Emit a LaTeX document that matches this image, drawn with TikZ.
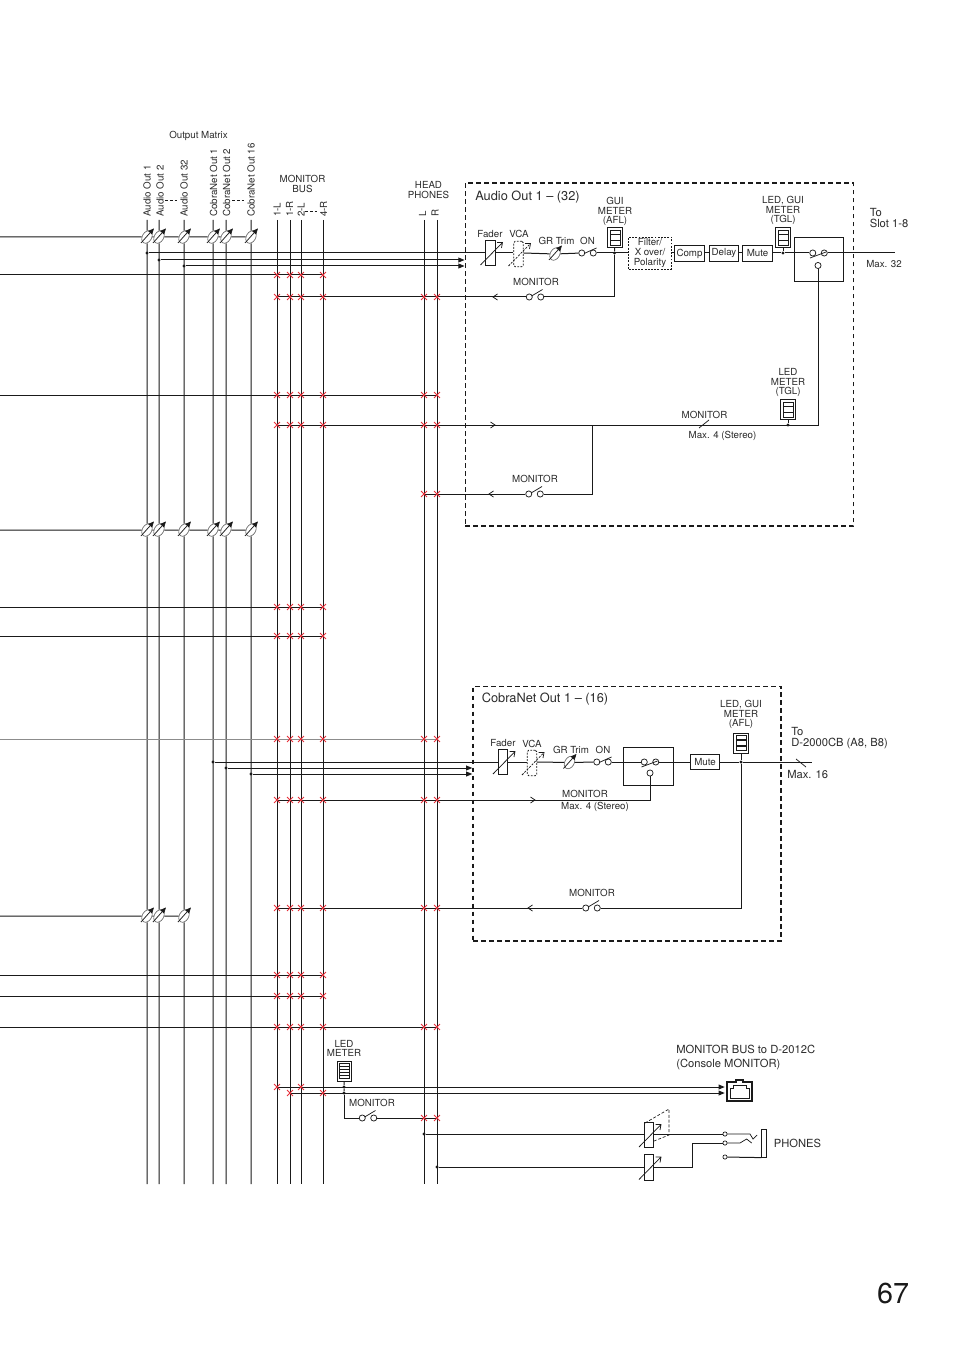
\documentclass[tikz,border=0pt]{standalone}
\usepackage{fontspec}
\setmainfont{TeX Gyre Heros}
\usetikzlibrary{arrows.meta,shapes.geometric,shapes.misc}
\definecolor{ink}{HTML}{1A1A1A}
\definecolor{txt}{HTML}{2B2B2B}
\definecolor{xred}{HTML}{E8303A}
\newcommand\crosses[2]{\foreach \v in {#2}{\node[rx] at (\v|-#1) {};}}
\tikzset{
  wire/.style={line width=0.75pt,draw=ink},
  tipwire/.style={wire,-{Triangle[length=4.6pt,width=3.6pt]}},
  rx/.style={cross out,draw=xred,line width=0.7pt,minimum size=3.7pt,inner sep=0pt},
  term/.style={circle,draw=ink,line width=0.55pt,fill=white,minimum size=4.6pt,inner sep=0pt},
  smallterm/.style={circle,draw=ink,line width=0.5pt,fill=white,minimum size=3.2pt,inner sep=0pt},
  jdot/.style={circle,fill=ink,minimum size=2.6pt,inner sep=0pt},
  lab/.style={text=txt,font=\fontsize{7.3}{7.05}\selectfont,align=center,inner sep=0pt,yshift=0pt},
  mid/.style={text=txt,font=\fontsize{8.4}{8.6}\selectfont,align=left,inner sep=0pt},
  head/.style={text=txt,font=\fontsize{9.6}{10}\selectfont,inner sep=0pt,yshift=-0.5pt},
  vlab/.style={text=txt,font=\fontsize{7.3}{7.05}\selectfont,inner sep=0pt,rotate=90,anchor=west},
  proc/.style={draw=ink,line width=0.65pt,fill=white,inner sep=0pt,minimum height=11.5pt,text=txt,font=\fontsize{7.3}{8}\selectfont},
  swbox/.style={draw=ink,line width=0.65pt,fill=white,minimum width=37pt,minimum height=33pt,inner sep=0pt},
  zone/.style={draw=ink,line width=1pt,dash pattern=on 3.6pt off 2.4pt,inner sep=0pt},
  dashlink/.style={draw=ink,line width=0.5pt,dash pattern=on 2.2pt off 1.4pt},
  open/.style={line width=0.55pt,draw=ink},
  sw/.pic={\node[term] (-l) at (-5.75,0){}; \node[term] (-r) at (5.75,0){}; \draw[open] (-3.4,-1) -- (7.5,-7.5);},
  swf/.pic={\node[term] (-l) at (-5.75,0){}; \node[term] (-r) at (5.75,0){}; \draw[open] (-3.4,0.5) -- (9,-5);},
  swb/.pic={\node[term] (-l) at (-5.75,0){}; \node[term] (-r) at (5.75,0){}; \draw[open] (-8.5,5) -- (7.5,-1);},
  fadr/.pic={\node[draw=ink,line width=0.7pt,fill=white,minimum width=7pt,minimum height=19pt,inner sep=0pt] (-b) at (0,0){};
    \draw[open] (-10,12) -- (12,-10.5) (6.5,-10.5) -- (12,-10.5) -- (11,-5);},
  vca/.pic={\node[draw=ink,line width=0.55pt,dash pattern=on 1.4pt off 1pt,fill=white,rounded corners=1pt,minimum width=7pt,minimum height=19pt,inner sep=0pt] (-b) at (0,0){};
    \draw[open,dash pattern=on 1.6pt off 1pt] (-10,12) -- (12,-10.5); \draw[open] (6.5,-10.5) -- (12,-10.5) -- (11,-5);},
  trim/.pic={\node[ellipse,draw=ink!65,line width=0.5pt,fill=white,minimum width=10pt,minimum height=7pt,inner sep=0pt,rotate=60] (-e) at (0,0){};
    \draw[open,-{Triangle[length=4.4pt,width=3.8pt]}] (-6,6) -- (7,-8.6);},
  meter/.pic={\node[draw=ink,line width=0.7pt,fill=white,minimum width=10.8pt,minimum height=15pt,inner sep=0pt] (-b) at (0,0){};
    \draw[line width=0.6pt,draw=ink] (-5,-7.5) rectangle (5,7.5);
    \draw[line width=1pt,draw=ink] (-5,-3) -- (5,-3) (-5,3) -- (5,3);},
  ledmeter/.pic={\node[draw=ink,line width=0.7pt,fill=white,minimum width=10.8pt,minimum height=15pt,inner sep=0pt] (-b) at (0,0){};
    \draw[line width=0.6pt,draw=ink] (-5,-7.5) rectangle (5,7.5);
    \draw[line width=0.8pt,draw=ink] (-5,-4.5) -- (5,-4.5) (-5,-1.5) -- (5,-1.5) (-5,1.5) -- (5,1.5) (-5,4.5) -- (5,4.5);},
  openl/.pic={\draw[open] (4.5,-3) -- (0,0) -- (4.5,3);},
  openr/.pic={\draw[open] (-4.5,-3) -- (0,0) -- (-4.5,3);},
}
\begin{document}
\begin{tikzpicture}[x=0.75pt,y=-0.75pt]
\useasboundingbox (0,0) rectangle (954,1351);
\fill[white] (0,0) rectangle (954,1351);

% ---- coordinates of the buses and rows
\foreach \n/\x in {a1/147,a2/159,a32/184,c1/213,c2/226,c16/251,m1L/277,m1R/290,m2L/301,m4R/323,hL/424,hR/437}
  \coordinate (\n) at (\x,220);
\coordinate (B) at (0,1184);
\foreach \y in {237,253,260,266,275,297,395,425,494,530,607,636,739,762,768,774,800,908,916,975,996,1027,1087,1093,1118,1134,1167}
  \coordinate (L\y) at (0,\y);

% ---- zones
\node[zone,minimum width=291.4pt,minimum height=257pt] (zoneA) at (659.5,354.5) {};
\node[zone,minimum width=231pt,minimum height=191pt] (zoneB) at (627,813.5) {};

% ---- matrix trims
\foreach \c in {a1,a2,a32,c1,c2,c16}{
  \pic (t-\c-237) at (\c|-L237) {trim};
  \pic (t-\c-530) at (\c|-L530) {trim};
}
\foreach \c in {a1,a2,a32}{ \pic (t-\c-916) at (\c|-L916) {trim}; }

% ---- Audio Out blocks
\pic (fA) at (490.5,253) {fadr};
\pic (vA) at (518.5,254) {vca};
\pic (tA) at (555,254) {trim};
\pic (swA) at (587.5,253) {swf};
\pic (guiA) at (615,237.5) {meter};
\node[jdot] (dA) at (614.5,253) {};
\node[draw=ink,line width=0.55pt,dash pattern=on 1.4pt off 1pt,fill=white,minimum width=32pt,minimum height=24pt,inner sep=0pt,text=txt,font=\fontsize{7.3}{7.5}\selectfont,align=center] (filt) at (650,253) {Filter/\\X over/\\Polarity};
\node[proc,minimum width=22pt] (comp) at (689.5,253.5) {Comp};
\node[proc,minimum width=22pt] (delay) at (724,253.5) {Delay};
\node[proc,minimum width=23pt] (muteA) at (757.5,253.5) {\raisebox{1pt}{Mute}};
\pic (ledA) at (783,237.5) {meter};
\node[jdot] (dB) at (783,253) {};
\node[swbox] (boxA) at (819,259) {};
\pic (swS) at (818.5,253) {swb};
\node[term] (swSc) at (818,265.5) {};
\coordinate (endA) at (895,253);
\pic (swM1) at (535,297) {sw};
\pic (swM2) at (534.5,494) {sw};
\pic (ledT) at (788,409.5) {meter};
\node[jdot] (dT) at (788,425) {};
\coordinate (j1) at (592,425);

% ---- CobraNet blocks
\pic (fB) at (503,762) {fadr};
\pic (vB) at (532,763) {vca};
\pic (tB) at (569.5,762.5) {trim};
\pic (swB) at (602.5,762) {swf};
\node[swbox,minimum height=29pt] (boxB) at (648.5,766.5) {};
\pic (swC) at (650,762) {swb};
\node[term] (swCc) at (650,773) {};
\node[proc,minimum width=22pt] (muteB) at (705,762) {Mute};
\pic (ledB) at (741,743) {meter};
\node[jdot] (dC) at (741,762) {};
\coordinate (endB) at (812,762);
\pic (swM3) at (591.5,908) {sw};

% ---- bottom blocks
\pic (ledM) at (344.5,1071) {ledmeter};
\node[jdot] (d1) at (344,1087) {};
\node[jdot] (d2) at (344,1093) {};
\pic (swM4) at (368,1118) {sw};
\node[minimum width=20.25pt,minimum height=15.75pt,inner sep=0pt] (rj) at (738.5,1090.5) {};
\pic (fP1) at (649,1135) {fadr};
\pic (fP2) at (649,1167.5) {fadr};
\node[smallterm] (ct1) at (725,1134) {};
\node[smallterm] (ct2) at (725,1143) {};
\node[smallterm] (ct3) at (725,1157) {};
\node[draw=ink,line width=0.65pt,fill=white,minimum width=3.4pt,minimum height=20.5pt,inner sep=0pt] (jack) at (764,1143.5) {};
\node[jdot] (dP1) at (hL|-L1134) {};
\node[jdot] (dP2) at (hR|-L1167) {};

% ---- vertical buses
\foreach \c in {a1,a2,a32}
  \draw[wire] (\c) -- (t-\c-237-e) -- (t-\c-530-e) -- (t-\c-916-e) -- (\c|-B);
\foreach \c in {c1,c2,c16}
  \draw[wire] (\c) -- (t-\c-237-e) -- (t-\c-530-e) -- (\c|-B);
\foreach \c in {m1L,m1R,m2L,m4R,hL,hR}
  \draw[wire] (\c) -- (\c|-B);

% ---- matrix input rows
\draw[wire] (L237) -- (t-a1-237-e) -- (t-a2-237-e) -- (t-a32-237-e) -- (t-c1-237-e) -- (t-c2-237-e) -- (t-c16-237-e);
\draw[wire] (L530) -- (t-a1-530-e) -- (t-a2-530-e) -- (t-a32-530-e) -- (t-c1-530-e) -- (t-c2-530-e) -- (t-c16-530-e);
\draw[wire] (L916) -- (t-a1-916-e) -- (t-a2-916-e) -- (t-a32-916-e);

% ---- long rows
\foreach \y in {275,607,636,975,996}{
  \draw[wire] (L\y) -- (m4R|-L\y);
  \crosses{L\y}{m1L,m1R,m2L,m4R}
}
\foreach \y in {395,1027}{
  \draw[wire] (L\y) -- (hR|-L\y);
  \crosses{L\y}{m1L,m1R,m2L,m4R,hL,hR}
}
\draw[line width=0.75pt,draw=ink!50] (L739) -- (hR|-L739);
\crosses{L739}{m1L,m1R,m2L,m4R,hL,hR}

% ---- Audio Out chain
\node[jdot] (dS1) at (a1|-L253) {};
\node[jdot] (dS2) at (a2|-L260) {};
\node[jdot] (dS3) at (a32|-L266) {};
\draw[wire] (dS1) -- (fA-b) -- (vA-b.west|-L253);
\draw[wire] (vA-b.east|-L253) -- (tA-e) -- (swA-l);
\draw[wire] (swA-r) -- (filt.west|-L253);
\draw[wire] (filt.east|-L253) -- (comp.west|-L253);
\draw[wire] (comp.east|-L253) -- (delay.west|-L253);
\draw[wire] (delay.east|-L253) -- (muteA.west|-L253);
\draw[wire] (muteA.east|-L253) -- (dB) -- (swS-l);
\draw[wire] (swS-r) -- (endA);
\draw[tipwire] (dS2) -- (zoneA.west|-L260);
\draw[tipwire] (dS3) -- (zoneA.west|-L266);
\draw[wire] (guiA-b) -- (dA);
\draw[wire] (ledA-b) -- (dB);
\draw[wire] (m1L|-L297) -- (swM1-l);
\draw[wire] (swM1-r) -| (dA);
\crosses{L297}{m1L,m1R,m2L,m4R,hL,hR}
\pic at (493,297) {openl};
\draw[wire] (m1L|-L425) -| (swSc);
\crosses{L425}{m1L,m1R,m2L,m4R,hL,hR}
\pic at (495,425) {openr};
\draw[wire] (ledT-b) -- (dT);
\draw[wire] (j1) |- (swM2-r);
\draw[wire] (swM2-l) -- (hL|-L494);
\crosses{L494}{hL,hR}
\pic at (489,494) {openl};

% ---- CobraNet chain
\node[jdot] (dC1) at (c1|-L762) {};
\node[jdot] (dC2) at (c2|-L768) {};
\node[jdot] (dC3) at (c16|-L774) {};
\draw[wire] (dC1) -- (fB-b) -- (vB-b.west|-L762);
\draw[wire] (vB-b.east|-L762) -- (tB-e) -- (swB-l);
\draw[wire] (swB-r) -- (boxB.west|-L762);
\draw[wire] (boxB.west|-L762) -- (swC-l);
\draw[wire] (swC-r) -- (boxB.east|-L762);
\draw[wire] (boxB.east|-L762) -- (muteB.west);
\draw[wire] (muteB.east) -- (dC) -- (endB);
\draw[wire] (ledB-b) -- (dC);
\draw[tipwire] (dC2) -- (zoneB.west|-L768);
\draw[tipwire] (dC3) -- (zoneB.west|-L774);
\draw[wire] (m1L|-L800) -| (swCc);
\crosses{L800}{m1L,m1R,m2L,m4R,hL,hR}
\pic at (535,800) {openr};
\draw[wire] (m1L|-L908) -- (swM3-l);
\draw[wire] (swM3-r) -| (dC);
\crosses{L908}{m1L,m1R,m2L,m4R,hL,hR}
\pic at (528,908) {openl};

% ---- monitor bus and phones
\draw[tipwire] (m1L|-L1087) -- (rj.west|-L1087);
\draw[tipwire] (m1R|-L1093) -- (rj.west|-L1093);
\crosses{L1087}{m1L,m2L}
\crosses{L1093}{m1R,m4R}
\draw[wire] (ledM-b) -- (d1) -- (d2);
\draw[wire] (d2) |- (swM4-l);
\draw[wire] (swM4-r) -- (hR|-L1118);
\crosses{L1118}{hL,hR}
\draw[line width=0.9pt,draw=ink] (727,1101) -- (727,1082) -- (736,1082) -- (736,1080) -- (743,1080) -- (743,1082) -- (752,1082) -- (752,1101) -- cycle;
\draw[line width=0.5pt,draw=ink] (730,1098) -- (730,1088) -- (733,1088) -- (733,1085) -- (746,1085) -- (746,1088) -- (749,1088) -- (749,1098) -- cycle;
\draw[wire] (dP1) -- (fP1-b.west|-L1134);
\draw[wire] (fP1-b.east|-L1134) -- (ct1);
\draw[wire] (dP2) -- (fP2-b.west|-L1167);
\draw[wire] (fP2-b.east|-L1167) -- (692,1167) |- (ct2);
\draw[wire] (ct3) -- (jack.south west);
\draw[open] (ct1) -- (750,1134) -- (753,1139) -- (757,1135);
\draw[open] (ct2) -- (740,1143) -- (746.6,1139) -- (751.7,1143);
\draw[dashlink] (645,1123) -- (669,1109) -- (669,1135) -- (654,1141);

% ---- small dashes and ticks
\draw[dashlink] (165,200) -- (177,200);
\draw[dashlink] (232,200) -- (244,200);
\draw[dashlink] (305,211) -- (317,211);
\draw[open] (699,428) -- (709,420);
\draw[open] (796,759) -- (806,767);

% ---- texts
\node[lab] (tOM) at (198.5,135.5) {Output Matrix};
\node[vlab] (l1) at (147,217) {Audio Out 1};
\node[vlab] (l2) at (160,217) {Audio Out 2};
\node[vlab] (l3) at (184,217) {Audio Out 32};
\node[vlab] (l4) at (213.5,217) {CobraNet Out 1};
\node[vlab] (l5) at (226.5,217) {CobraNet Out 2};
\node[vlab] (l6) at (251,217) {CobraNet Out 16};
\node[vlab] (l7) at (277,217) {1-L};
\node[vlab] (l8) at (289.5,217) {1-R};
\node[vlab] (l9) at (301,217) {2-L};
\node[vlab] (l10) at (323.5,217) {4-R};
\node[vlab] (l11) at (422.5,217) {L};
\node[vlab] (l12) at (435,217) {R};
\node[lab] (tMB) at (302.5,184) {MONITOR\\BUS};
\node[lab] (tHP) at (428.5,190) {HEAD\\PHONES};
\node[head,anchor=west] (tZA) at (475,196) {Audio Out 1 – (32)};
\node[lab] (tF1) at (490,234) {Fader};
\node[lab] (tV1) at (519,234) {VCA};
\node[lab] (tG1) at (556.5,241) {GR Trim};
\node[lab] (tO1) at (587.5,241) {ON};
\node[lab] (tGM) at (615,211.5) {GUI\\METER\\(AFL)};
\node[lab] (tLG) at (783,210.5) {LED, GUI\\METER\\(TGL)};
\node[mid,anchor=west] (tTo1) at (869.5,218) {To\\Slot 1-8};
\node[lab,anchor=west] (tM32) at (866,264) {Max. 32};
\node[lab] (tMo1) at (536,282) {MONITOR};
\node[lab] (tLT) at (788,382.5) {LED\\METER\\(TGL)};
\node[lab] (tMo2) at (704.5,415) {MONITOR};
\node[lab] (tS1) at (722.5,436) {Max. 4 (Stereo)};
\node[lab] (tMo3) at (535,479) {MONITOR};
\node[head,anchor=west] (tZB) at (481.5,698) {CobraNet Out 1 – (16)};
\node[lab] (tF2) at (503,743.5) {Fader};
\node[lab] (tV2) at (532,743.5) {VCA};
\node[lab] (tG2) at (571,750) {GR Trim};
\node[lab] (tO2) at (603,750) {ON};
\node[lab] (tLG2) at (741,714.5) {LED, GUI\\METER\\(AFL)};
\node[mid,anchor=west] (tTo2) at (791,738) {To\\D-2000CB (A8, B8)};
\node[mid,anchor=west] (tM16) at (787,774) {Max. 16};
\node[lab] (tMo4) at (585,794) {MONITOR};
\node[lab] (tS2) at (595,807) {Max. 4 (Stereo)};
\node[lab] (tMo5) at (592,893) {MONITOR};
\node[lab] (tLM) at (344,1048.5) {LED\\METER};
\node[lab] (tMo6) at (372,1103) {MONITOR};
\node[mid,anchor=west,font=\fontsize{8.4}{10.4}\selectfont] (tCM) at (676,1057.5) {MONITOR BUS to D-2012C\\(Console MONITOR)};
\node[mid,anchor=west] (tPh) at (773.5,1143) {PHONES};
\node[text=ink,font=\fontsize{21.6}{24}\selectfont,inner sep=0pt] (tPg) at (893,1293) {67};
\end{tikzpicture}
\end{document}
